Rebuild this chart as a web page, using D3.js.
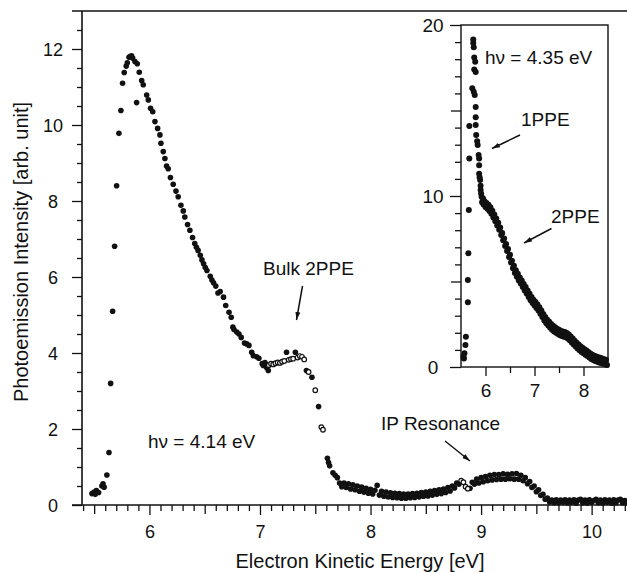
<!DOCTYPE html>
<html><head><meta charset="utf-8">
<script src="https://cdn.jsdelivr.net/npm/d3@7"></script>
<style>
body{margin:0;background:#fff}
text{font-family:"Liberation Sans",Arial,Helvetica,sans-serif;fill:#111}
</style>
</head><body>
<svg id="c" width="627" height="573"></svg>
<script>
// ---- main spectrum (hv = 4.14 eV), filled markers ----
const mainE = [5.48,5.50,5.51,5.52,5.54,5.57,5.58,5.59,5.615,5.634,5.649,5.667,5.685,5.703,5.724,5.742,5.757,5.772,5.79,5.80,5.815,5.824,5.838,5.848,5.869,5.884,5.89,5.908,5.93,5.944,5.975,5.99,6.01,6.03,6.05,6.074,6.095,6.104,6.125,6.14,6.155,6.17,6.19,6.215,6.24,6.26,6.285,6.306,6.32,6.345,6.366,6.39,6.41,6.425,6.44,6.46,6.475,6.49,6.505,6.52,6.55,6.565,6.58,6.60,6.62,6.64,6.67,6.69,6.72,6.74,6.755,6.765,6.79,6.81,6.83,6.86,6.88,6.90,6.925,6.94,6.97,6.99,7.02,7.03,7.045,7.06,7.075,7.24,7.32,7.42,7.47,7.53,7.61,7.62,7.63,7.66,7.68,7.70,7.72,
7.74,7.76,7.78,7.80,7.82,7.84,7.86,7.88,7.90,7.92,7.94,7.96,7.98,8.00,8.02,8.04,8.06,8.08,8.10,8.12,8.14,8.16,8.18,8.20,8.22,8.24,8.26,8.28,8.30,8.32,8.34,8.36,8.38,8.40,8.42,8.44,8.46,8.48,8.50,8.52,8.54,8.56,8.58,8.60,8.62,8.64,8.66,8.68,8.70,8.72,8.74,8.76,8.78,8.80,
8.90,8.92,8.94,8.96,8.98,9.00,9.02,9.04,9.06,9.08,9.10,9.12,9.14,9.16,9.18,9.20,9.22,9.24,9.26,9.28,9.30,9.32,9.34,9.36,9.38,9.40,9.42,9.44,9.46,9.48,9.50,9.52,9.54,9.56,9.58,9.60,9.62,9.64,9.66,9.68,9.70,9.72,9.74,9.76,9.78,9.80,9.82,9.84,9.86,9.88,9.90,9.92,9.94,9.96,9.98,10.00,10.02,10.04,10.06,10.08,10.10,10.12,10.14,10.16,10.18,10.20,10.22,10.24,10.26,10.28,10.30,10.32,10.34];
const mainI = [0.30,0.34,0.28,0.38,0.33,0.50,0.56,0.47,0.79,1.38,3.20,5.10,6.81,8.40,9.78,10.38,11.10,11.38,11.55,11.64,11.78,11.80,11.82,11.76,11.67,10.59,11.61,11.39,11.17,11.06,10.79,10.66,10.44,10.35,10.09,9.91,9.74,9.52,9.30,9.12,8.92,8.85,8.62,8.44,8.26,8.11,7.89,7.74,7.58,7.38,7.23,7.04,6.88,6.78,6.70,6.57,6.45,6.35,6.25,6.17,6.02,5.92,5.85,5.76,5.58,5.62,5.47,5.25,5.07,4.94,4.68,4.62,4.55,4.50,4.41,4.26,4.24,4.20,4.02,3.93,3.90,3.86,3.72,3.67,3.75,3.62,3.54,4.02,4.02,3.54,3.36,2.59,1.23,1.12,1.03,0.85,0.78,0.72,0.58,
0.48,0.58,0.46,0.56,0.42,0.53,0.40,0.50,0.36,0.47,0.34,0.44,0.31,0.41,0.29,0.39,0.52,0.26,0.36,0.23,0.34,0.21,0.32,0.20,0.31,0.19,0.30,0.18,0.29,0.18,0.29,0.19,0.30,0.20,0.31,0.21,0.33,0.23,0.34,0.24,0.36,0.26,0.38,0.28,0.40,0.30,0.42,0.33,0.46,0.37,0.50,0.45,0.58,0.55,
0.44,0.60,0.55,0.68,0.58,0.72,0.61,0.75,0.64,0.78,0.66,0.80,0.67,0.80,0.68,0.82,0.68,0.81,0.69,0.82,0.68,0.83,0.68,0.78,0.64,0.72,0.56,0.62,0.46,0.50,0.35,0.40,0.25,0.28,0.15,0.18,0.08,0.13,0.06,0.14,0.06,0.13,0.07,0.14,0.06,0.13,0.07,0.14,0.05,0.13,0.15,0.06,0.13,0.05,0.14,0.07,0.12,0.15,0.06,0.13,0.05,0.14,0.07,0.13,0.05,0.14,0.06,0.13,0.15,0.06,0.12,0.05,0.11];
// ---- main spectrum, open markers (plateau / resonance) ----
const openE = [7.08,7.10,7.12,7.14,7.16,7.18,7.20,7.22,7.26,7.28,7.30,7.34,7.36,7.38,7.40,7.44,7.50,7.555,7.57,8.82,8.84,8.86,8.88];
const openI = [3.68,3.72,3.70,3.73,3.75,3.74,3.77,3.79,3.82,3.84,3.85,3.88,3.92,3.90,3.83,3.50,3.02,2.05,1.98,0.64,0.60,0.48,0.43];
// ---- inset spectrum (hv = 4.35 eV) ----
const insetE = [5.55,5.56,5.57,5.59,5.60,5.64,5.64,5.65,5.66,5.67,5.67,
5.75,5.75,5.76,5.77,5.79,5.77,5.80,5.73,5.76,5.78,5.80,5.80,5.80,5.81,5.83,5.84,5.86,5.87,5.87,5.87,5.88,5.89,5.90,5.90,5.91,5.92,
5.93,5.95,5.96,5.98,6.00,6.02,6.04,6.06,6.08,6.10,6.12,6.14,6.16,6.18,6.20,6.22,6.24,6.26,6.28,6.30,6.32,6.34,6.36,6.38,6.40,6.42,6.44,6.46,6.48,6.50,6.52,6.54,6.56,6.58,6.60,6.62,6.64,6.66,6.68,6.70,6.72,6.74,6.76,6.78,6.80,6.82,6.84,6.86,6.88,6.90,6.92,6.94,6.96,6.98,7.00,7.02,7.04,7.06,7.08,7.10,7.12,7.14,7.16,7.18,7.20,7.22,7.24,7.26,7.28,7.30,7.32,7.34,7.36,7.38,7.40,7.42,7.44,7.46,7.48,7.50,7.52,7.54,7.56,7.58,7.60,7.62,7.64,7.66,7.68,7.70,7.72,7.74,7.76,7.78,7.80,7.82,7.84,7.86,7.88,7.90,7.92,7.94,7.96,7.98,8.00,8.02,8.04,8.06,8.08,8.10,8.12,8.14,8.16,8.18,8.20,8.22,8.24,8.26,8.28,8.30,8.32,8.34,8.36,8.38,8.40,8.42,8.44,8.46,8.48];
const insetI = [0.60,0.50,0.80,1.29,1.77,3.78,5.09,6.65,9.18,12.20,14.10,
19.15,18.95,18.70,18.10,17.85,17.40,17.25,16.30,16.10,15.90,15.20,14.60,14.15,13.57,13.20,12.98,12.40,12.20,11.80,11.30,11.10,10.94,10.60,10.35,10.15,9.96,
9.64,9.86,9.50,9.70,9.36,9.59,9.26,9.49,9.13,9.34,8.96,9.14,8.74,8.92,8.52,8.69,8.28,8.44,8.02,8.16,7.72,7.84,7.41,7.52,7.08,7.20,6.78,6.90,6.44,6.56,6.11,6.22,5.78,5.92,5.50,5.66,5.28,5.46,5.06,5.24,4.88,5.06,4.68,4.86,4.48,4.68,4.30,4.48,4.10,4.28,3.91,4.10,3.74,3.94,3.60,3.80,3.45,3.66,3.30,3.50,3.12,3.30,2.92,3.10,2.72,2.92,2.56,2.77,2.42,2.64,2.30,2.52,2.18,2.41,2.08,2.32,2.00,2.24,1.93,2.18,1.86,2.11,1.81,2.07,1.77,2.04,1.74,1.99,1.67,1.90,1.56,1.78,1.44,1.66,1.32,1.54,1.20,1.42,1.08,1.31,0.98,1.21,0.88,1.12,0.80,1.04,0.72,0.96,0.64,0.88,0.55,0.79,0.47,0.72,0.41,0.66,0.35,0.61,0.31,0.57,0.27,0.54,0.24,0.50,0.20,0.46,0.16,0.42,0.12];
// ---- tick values / labels ----
const mainXTicks = [6,7,8,9,10];
const mainYTicks = [0,2,4,6,8,10,12];
const insetXTicks = [6,7,8];
const insetYTicks = [0,10,20];
const labels = {
  xTitle: "Electron Kinetic Energy [eV]",
  yTitle: "Photoemission Intensity [arb. unit]",
  hvMain: "h\u03bd = 4.14 eV",
  hvInset: "h\u03bd = 4.35 eV",
  bulk: "Bulk 2PPE",
  ip: "IP Resonance",
  one: "1PPE",
  two: "2PPE"
};

const svg = d3.select("#c");
const ink = "#111";

// scales
const x = d3.scaleLinear().domain([5.39, 10.32]).range([82, 627]);
const y = d3.scaleLinear().domain([0, 13]).range([505, 11]);
const xi = d3.scaleLinear().domain([5.5, 8.5]).range([461, 608]);
const yi = d3.scaleLinear().domain([0, 20]).range([367, 25]);

function range(a, b, s) { const r = []; for (let v = a; v <= b + 1e-9; v += s) r.push(+v.toFixed(3)); return r; }

function styleAxis(g) {
  g.select(".domain").remove();
  g.selectAll("line").attr("stroke", ink).attr("stroke-width", 1.3);
  g.selectAll("text").style("font-size", "18px").style("font-family", '"Liberation Sans",Arial,sans-serif').attr("fill", ink);
}

// ---- main axes ----
const gxMinor = svg.append("g").attr("transform", `translate(0,${y(0)})`)
  .call(d3.axisBottom(x).tickValues(range(5.4, 10.3, 0.1).filter(v => Math.abs(v*2 - Math.round(v*2)) > 1e-6)).tickSize(6).tickFormat(""));
styleAxis(gxMinor);
const gxMid = svg.append("g").attr("transform", `translate(0,${y(0)})`)
  .call(d3.axisBottom(x).tickValues([5.5,6.5,7.5,8.5,9.5]).tickSize(9).tickFormat(""));
styleAxis(gxMid);
const gx = svg.append("g").attr("transform", `translate(0,${y(0)})`)
  .call(d3.axisBottom(x).tickValues(mainXTicks).tickSize(10).tickPadding(10).tickFormat(d3.format("d")));
styleAxis(gx);

const gyMinor = svg.append("g").attr("transform", `translate(${x(5.39)},0)`)
  .call(d3.axisLeft(y).tickValues(range(0.5, 12.5, 0.5).filter(v => v % 2 !== 0)).tickSize(5).tickFormat(""));
styleAxis(gyMinor);
const gy = svg.append("g").attr("transform", `translate(${x(5.39)},0)`)
  .call(d3.axisLeft(y).tickValues(mainYTicks).tickSize(10).tickFormat(d3.format("d")));
styleAxis(gy);
gy.selectAll("text").attr("text-anchor", "middle").attr("x", -29).attr("dy", "0.36em");

// axis lines / frame
svg.append("line").attr("x1", 72).attr("x2", 627).attr("y1", y(0)).attr("y2", y(0)).attr("stroke", ink).attr("stroke-width", 1.6);
svg.append("line").attr("x1", x(5.39)).attr("x2", x(5.39)).attr("y1", y(13)).attr("y2", y(0)).attr("stroke", ink).attr("stroke-width", 1.6);
svg.append("line").attr("x1", 72).attr("x2", 627).attr("y1", y(13)).attr("y2", y(13)).attr("stroke", ink).attr("stroke-width", 1.6);

// main data
svg.append("g").selectAll("circle").data(d3.zip(mainE, mainI)).join("circle")
  .attr("cx", d => x(d[0])).attr("cy", d => y(d[1])).attr("r", 2.8).attr("fill", ink);
svg.append("g").selectAll("circle").data(d3.zip(openE, openI)).join("circle")
  .attr("cx", d => x(d[0])).attr("cy", d => y(d[1])).attr("r", 2.3).attr("fill", "#fff").attr("stroke", ink).attr("stroke-width", 1.2);

// ---- inset axes ----
const gixMinor = svg.append("g").attr("transform", `translate(0,${yi(0)})`)
  .call(d3.axisBottom(xi).tickValues([6.5,7.5]).tickSize(6).tickFormat(""));
styleAxis(gixMinor);
const gix = svg.append("g").attr("transform", `translate(0,${yi(0)})`)
  .call(d3.axisBottom(xi).tickValues(insetXTicks).tickSize(9).tickPadding(8).tickFormat(d3.format("d")));
styleAxis(gix);
gix.selectAll("text").style("font-size", "19px");

const giyMinor = svg.append("g").attr("transform", `translate(${xi(5.5)},0)`)
  .call(d3.axisLeft(yi).tickValues(range(1, 19, 1).filter(v => v % 5 !== 0)).tickSize(6).tickFormat(""));
styleAxis(giyMinor);
const giyMid = svg.append("g").attr("transform", `translate(${xi(5.5)},0)`)
  .call(d3.axisLeft(yi).tickValues([5, 15]).tickSize(10).tickFormat(""));
styleAxis(giyMid);
const giy = svg.append("g").attr("transform", `translate(${xi(5.5)},0)`)
  .call(d3.axisLeft(yi).tickValues(insetYTicks).tickSize(11).tickFormat(d3.format("d")));
styleAxis(giy);
giy.selectAll("text").attr("text-anchor", "middle").attr("x", -28).attr("dy", "0.36em").style("font-size", "19px");

svg.append("rect").attr("x", xi(5.5)).attr("y", yi(20)).attr("width", xi(8.5) - xi(5.5)).attr("height", yi(0) - yi(20))
  .attr("fill", "none").attr("stroke", ink).attr("stroke-width", 1.4);

svg.append("g").selectAll("circle").data(d3.zip(insetE, insetI)).join("circle")
  .attr("cx", d => xi(d[0])).attr("cy", d => yi(d[1])).attr("r", 3.0).attr("fill", ink);

// ---- titles ----
svg.append("text").attr("x", 360).attr("y", 568).attr("text-anchor", "middle").style("font-size", "20px").text(labels.xTitle);
svg.append("text").attr("transform", "translate(28,252) rotate(-90)").attr("text-anchor", "middle").style("font-size", "20px").text(labels.yTitle);

// ---- annotations ----
const defs = svg.append("defs");
defs.append("marker").attr("id", "ah").attr("viewBox", "0 -3 8 6").attr("refX", 8).attr("refY", 0)
  .attr("markerWidth", 8).attr("markerHeight", 6).attr("markerUnits", "userSpaceOnUse").attr("orient", "auto")
  .append("path").attr("d", "M0,-2.5L8,0L0,2.5Z").attr("fill", ink);

function note(txt, tx, ty, size) {
  svg.append("text").attr("x", tx).attr("y", ty).style("font-size", size + "px").text(txt);
}
function arrow(x1, y1, x2, y2) {
  svg.append("line").attr("x1", x1).attr("y1", y1).attr("x2", x2).attr("y2", y2)
    .attr("stroke", ink).attr("stroke-width", 1.5).attr("marker-end", "url(#ah)");
}
note(labels.bulk, 263, 275, 19);
arrow(302.5, 286, 296.5, 320);
note(labels.hvMain, 148, 448, 19);
note(labels.ip, 381, 430, 19);
arrow(445, 441, 470, 461);
note(labels.hvInset, 485, 64, 19);
note(labels.one, 521, 126, 19);
arrow(520, 135, 492, 148.5);
note(labels.two, 551, 223, 19);
arrow(551.5, 228.5, 524, 243);
</script>
</body></html>
